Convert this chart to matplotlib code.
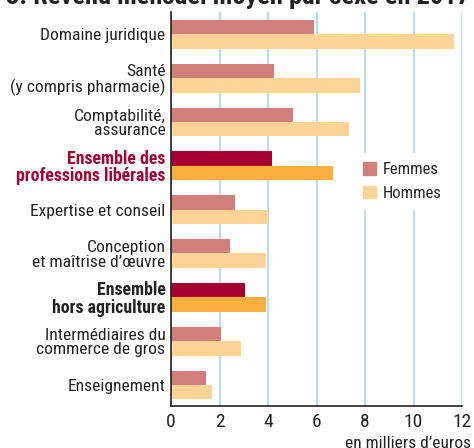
import matplotlib
matplotlib.use("Agg")
import matplotlib.pyplot as plt
from matplotlib.patches import Patch
from matplotlib import font_manager

names = {f.name for f in font_manager.fontManager.ttflist}
FONT = next((n for n in ["Roboto Condensed", "Archivo Narrow", "Asap Condensed",
                         "Barlow Condensed", "DejaVu Sans"] if n in names))
plt.rcParams['font.family'] = [FONT, 'DejaVu Sans']

categories = [
    "Domaine juridique",
    "Santé\n(y compris pharmacie)",
    "Comptabilité,\nassurance",
    "Ensemble des\nprofessions libérales",
    "Expertise et conseil",
    "Conception\net maîtrise d\u2019œuvre",
    "Ensemble\nhors agriculture",
    "Intermédiaires du\ncommerce de gros",
    "Enseignement",
]
femmes = [5.9, 4.25, 5.03, 4.16, 2.64, 2.43, 3.05, 2.06, 1.44]
hommes = [11.67, 7.8, 7.34, 6.67, 4.0, 3.92, 3.92, 2.89, 1.69]
highlight = [False, False, False, True, False, False, True, False, False]
label_colors = ["#222222"] * 3 + ["#a50034"] + ["#222222"] * 5
xticks = [0, 2, 4, 6, 8, 10, 12]

C_F, C_H = "#d17f7b", "#fdd396"
C_FH, C_HH = "#a50030", "#faae3d"

fig = plt.figure(figsize=(4.74, 4.48), dpi=100)
ax = fig.add_axes([171/474, 1-406/448, (462-171)/474, (406-12)/448])

bh = 0.33
for i, (f, h, hl) in enumerate(zip(femmes, hommes, highlight)):
    ax.barh(i - bh/2, f, height=bh, color=C_FH if hl else C_F, zorder=3)
    ax.barh(i + bh/2, h, height=bh, color=C_HH if hl else C_H, zorder=3)

ax.set_xlim(0, 12)
ax.set_ylim(8.48, -0.51)
ax.set_xticks(xticks)
ax.set_xticklabels([str(t) for t in xticks], fontsize=14, color="#222222")
ax.set_yticks(range(len(categories)))
ax.set_yticklabels(categories, fontsize=12.6, linespacing=0.96)
for lbl, col, hl in zip(ax.get_yticklabels(), label_colors, highlight):
    lbl.set_color(col)
    if hl:
        lbl.set_fontweight("bold")
        lbl.set_fontsize(12.8)
ax.tick_params(axis="y", length=0, pad=4)
ax.tick_params(axis="x", length=0, pad=5)
ax.grid(axis="x", color="#a9d4f0", linewidth=1.2, zorder=0)
for s in ["top", "right"]:
    ax.spines[s].set_visible(False)
for s in ["left", "bottom"]:
    ax.spines[s].set_color("#222222")
    ax.spines[s].set_linewidth(1.2)
    ax.spines[s].set_zorder(4)

leg = ax.legend(handles=[Patch(color=C_F, label="Femmes"), Patch(color=C_H, label="Hommes")],
                loc="upper left", bbox_to_anchor=((354-171)/291, 1-(153-12)/394),
                frameon=True, fontsize=12, handlelength=0.75, handleheight=0.8,
                handletextpad=0.45, labelspacing=0.5, borderpad=0.55, borderaxespad=0)
leg.get_frame().set_facecolor("white")
leg.get_frame().set_edgecolor("none")
leg.get_frame().set_alpha(1)
leg.set_zorder(5)
for t in leg.get_texts():
    t.set_color("#222222")

fig.text(471/474, 1-443/448, "en milliers d\u2019euros", ha="right", va="center",
         fontsize=12.5, color="#222222")
fig.text(6/474, 1+3/448, "3. Revenu mensuel moyen par sexe en 2017", ha="left", va="center",
         fontsize=19, fontweight="bold", color="#222222")

fig.savefig("out.png", dpi=100)
